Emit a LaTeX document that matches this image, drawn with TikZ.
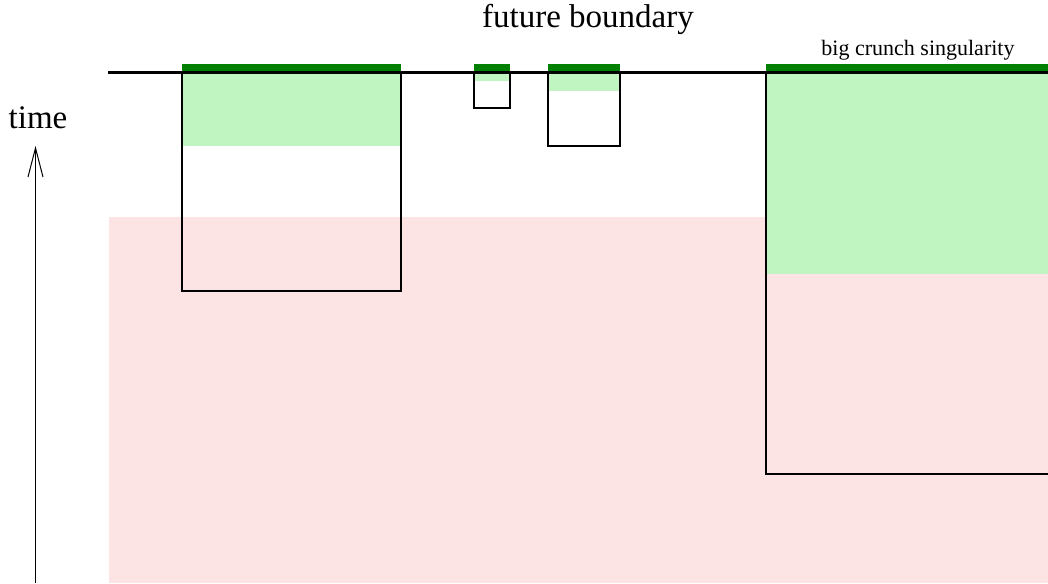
\documentclass[tikz,border=0pt]{standalone}
\usepackage{fontspec}
\setmainfont{Liberation Serif}
\usetikzlibrary{arrows.meta}
\definecolor{lightgreen}{RGB}{192,244,192}
\definecolor{lightpink}{RGB}{253,228,228}
\definecolor{bargreen}{RGB}{0,128,0}
\begin{document}
\begin{tikzpicture}[x=0.5pt,y=-0.5pt,
  region/.style={lightpink,draw=none},
  patch/.style={fill=lightgreen,draw=none},
  box/.style={draw=black,line width=1pt},
  bar/.style={draw=bargreen,line width=3.25pt},
  big label/.style={font=\fontsize{16.5}{19}\selectfont,inner sep=0pt},
  small label/.style={font=\fontsize{11}{13}\selectfont,inner sep=0pt}]
  \useasboundingbox (0,0) rectangle (1048,583);

  \fill[region] (109,217) rectangle (1048,583);

  \fill[patch] (182,72) rectangle (401,146);
  \fill[patch] (474,72) rectangle (510,81.5);
  \fill[patch] (548,72) rectangle (620,91);
  \fill[patch] (766,72) rectangle (1048,273.5);

  \draw[box] (182,72) rectangle (401,291);
  \draw[box] (474,72) rectangle (510,108.5);
  \draw[box] (548,72) rectangle (620,146);
  \draw[box] (766,72) rectangle (1049,474);

  \draw[bar] (182,67.5) -- (401,67.5);
  \draw[bar] (474,67.5) -- (510,67.5);
  \draw[bar] (548,67.5) -- (620,67.5);
  \draw[bar] (766,67.5) -- (1048,67.5);

  \draw[line width=1.75pt] (108,72.5) -- (1048,72.5);

  \node[big label] (fb) at (588,19) {future boundary};
  \node[small label] (bc) at (918,50) {big crunch singularity};
  \node[big label] (time) at (38,118) {time};

  \coordinate (t0) at (35.5,583);
  \coordinate (t1) at (35.5,146);
  \draw[line width=0.5pt,-{Straight Barb[length=14.5pt,width=7.5pt,line width=0.5pt]}] (t0) -- (t1);
\end{tikzpicture}
\end{document}
